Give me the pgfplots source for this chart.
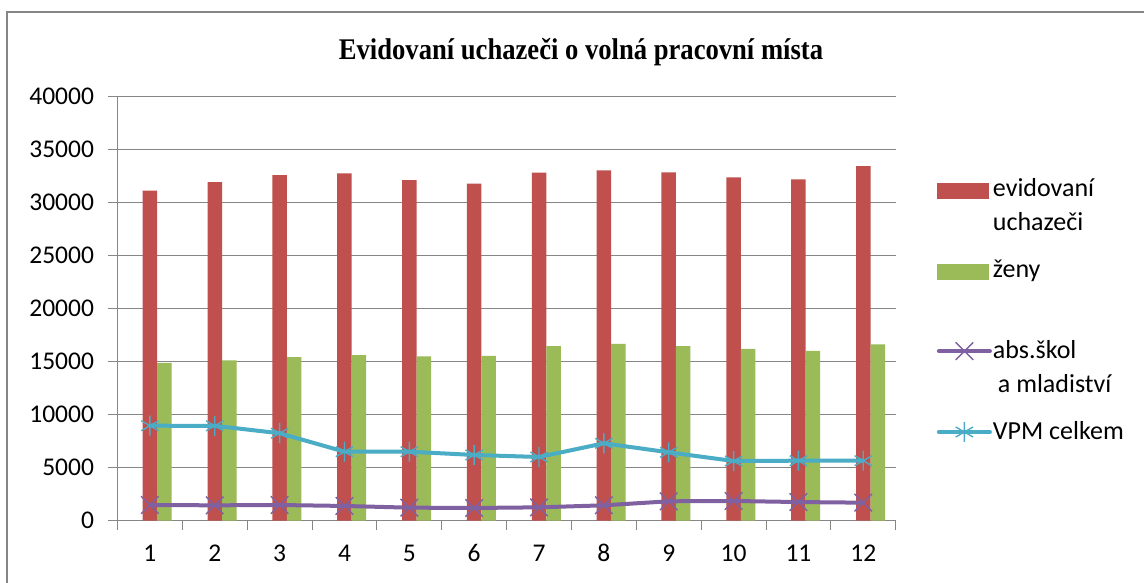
\documentclass[border=0pt]{standalone}
\usepackage{pgfplots}
\pgfplotsset{compat=1.18}
\usepackage{fontspec}
\setmainfont{Carlito}
\newfontfamily\titlefont{Liberation Serif}

\definecolor{evRed}{HTML}{C0504D}
\definecolor{zenGreen}{HTML}{9BBB59}
\definecolor{absPurple}{HTML}{7F60A0}
\definecolor{vpmCyan}{HTML}{4BACC6}
\definecolor{gridGray}{HTML}{868686}

% legend text: two lines
\newcommand\legtext[2]{\begin{tabular}[t]{@{}l@{}}#1\\#2\end{tabular}}

% legend images; the invisible path fixes the row pitch so the entries sit evenly
\pgfplotsset{
  redpatch/.style={legend image code/.code={%
      \path[draw=none, fill=none] (0pt,-55.9pt) rectangle (55pt,25pt);
      \fill[evRed] (0pt,-2.3pt) rectangle (52pt,13.4pt);}},
  greenpatch/.style={legend image code/.code={%
      \path[draw=none, fill=none] (0pt,-55.9pt) rectangle (55pt,25pt);
      \fill[zenGreen] (0pt,-2.3pt) rectangle (52pt,13.4pt);}},
  purpleline/.style={legend image code/.code={%
      \path[draw=none, fill=none] (0pt,-55.9pt) rectangle (55pt,25pt);
      \draw[absPurple, line width=4pt, line cap=round] (2pt,7.6pt) -- (53pt,7.6pt);
      \draw[absPurple, line width=1.4pt, mark=x, mark size=12.4pt] plot coordinates {(27.5pt,7.6pt)};}},
  cyanline/.style={legend image code/.code={%
      \path[draw=none, fill=none] (0pt,-55.9pt) rectangle (55pt,25pt);
      \draw[vpmCyan, line width=4pt, line cap=round] (2pt,7.6pt) -- (53pt,7.6pt);
      \draw[vpmCyan, line width=1.4pt, mark=asterisk, mark size=10pt] plot coordinates {(27.5pt,7.6pt)};}},
}

\begin{document}
\begin{tikzpicture}
\useasboundingbox (0pt,0pt) rectangle (1144pt,583pt);
\fill[white] (0pt,0pt) rectangle (1144pt,583pt);
% outer chart frame (cut off at right and bottom as in the source)
\draw[gridGray, line width=1.6pt] (7pt,-10pt) -- (7pt,570.7pt) -- (1160pt,570.7pt);
\node[anchor=base] at (581pt,523pt)
  {\scalebox{0.887}[1]{\titlefont\bfseries\fontsize{30}{36}\selectfont Evidovaní uchazeči o volná pracovní místa}};

\begin{axis}[
    at={(117.5pt,62.3pt)}, anchor=south west,
    scale only axis, width=778.2pt, height=424pt,
    xmin=0.5, xmax=12.5, ymin=0, ymax=40000,
    axis lines=left,
    axis line style={gridGray, line width=1pt, -},
    tick align=outside,
    major tick length=9pt, minor tick length=9pt,
    ytick={0,5000,...,40000},
    ymajorgrids,
    grid style={gridGray, line width=1pt},
    y tick style={gridGray, line width=1pt},
    xtick={1,...,12},
    major x tick style={draw=none},
    minor xtick={0.5,1.5,...,12.5},
    minor x tick style={gridGray, line width=1pt},
    scaled ticks=false,
    /pgf/number format/1000 sep={},
    /pgf/number format/assume math mode=true,
    tick label style={font=\fontsize{25.5}{30}\selectfont, text=black},
    yticklabel style={anchor=east, inner sep=0pt, xshift=-14.3pt},
    xticklabel style={anchor=north, inner sep=0pt, text height=16pt, text depth=0pt, yshift=-16pt},
    legend style={at={(1.0527,0.8231)}, anchor=north west, draw=none, fill=none,
        inner sep=0pt, row sep=0pt, column sep=1pt,
        font=\fontsize{26}{34}\selectfont,
        cells={anchor=base west}, nodes={inner sep=0pt}},
]
\addplot[ybar, bar width=14.5pt, bar shift=0pt, fill=evRed, draw=none, redpatch]
    coordinates {(1,31130) (2,31950) (3,32590) (4,32770) (5,32140) (6,31790)
                 (7,32830) (8,33060) (9,32870) (10,32400) (11,32200) (12,33460)};
\addlegendentry{\legtext{evidovaní}{uchazeči}}
\addplot[ybar, bar width=14.5pt, bar shift=14.5pt, fill=zenGreen, draw=none, greenpatch]
    coordinates {(1,14900) (2,15130) (3,15440) (4,15630) (5,15510) (6,15540)
                 (7,16480) (8,16670) (9,16480) (10,16200) (11,16010) (12,16640)};
\addlegendentry{\legtext{ženy}{}}
\addplot[color=absPurple, line width=4pt, line join=round,
    mark=x, mark size=12.4pt, mark options={line width=1.4pt}, purpleline]
    coordinates {(1,1480) (2,1450) (3,1480) (4,1390) (5,1230) (6,1200)
                 (7,1260) (8,1450) (9,1830) (10,1860) (11,1760) (12,1700)};
\addlegendentry{\legtext{abs.škol}{\hspace{5pt}a mladiství}}
\addplot[color=vpmCyan, line width=4pt, line join=round,
    mark=asterisk, mark size=10pt, mark options={line width=1.4pt}, cyanline]
    coordinates {(1,8960) (2,8950) (3,8250) (4,6510) (5,6510) (6,6200)
                 (7,6010) (8,7300) (9,6450) (10,5630) (11,5660) (12,5660)};
\addlegendentry{\legtext{VPM celkem}{}}
\end{axis}
\end{tikzpicture}
\end{document}
